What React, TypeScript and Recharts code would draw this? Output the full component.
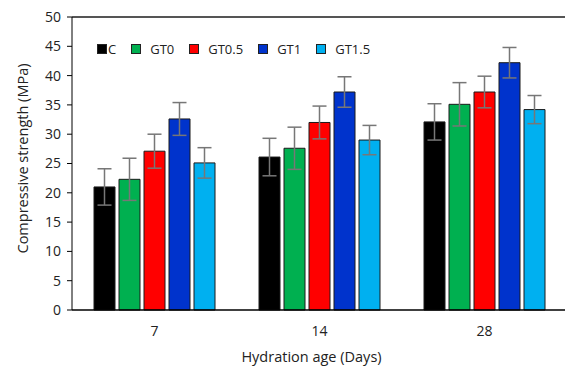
import React from 'react';
import { BarChart, Bar, XAxis, YAxis, ErrorBar, ReferenceLine } from 'recharts';

const categories = ['7', '14', '28'];
const seriesNames = ['C', 'GT0', 'GT0.5', 'GT1', 'GT1.5'];
const valC = [21.0, 26.1, 32.1];
const valGT0 = [22.3, 27.6, 35.1];
const valGT05 = [27.1, 32.0, 37.2];
const valGT1 = [32.6, 37.2, 42.2];
const valGT15 = [25.1, 29.0, 34.2];
const errC = [3.1, 3.2, 3.1];
const errGT0 = [3.6, 3.6, 3.7];
const errGT05 = [2.9, 2.8, 2.7];
const errGT1 = [2.8, 2.6, 2.6];
const errGT15 = [2.6, 2.5, 2.4];
const yTicks = [0, 5, 10, 15, 20, 25, 30, 35, 40, 45, 50];

const colors = ['#000000', '#00b050', '#ff0000', '#0033cc', '#00b0f0'];
const keys = ['C', 'GT0', 'GT05', 'GT1', 'GT15'];

const data = categories.map((c, i) => ({
  age: c,
  C: valC[i], eC: errC[i],
  GT0: valGT0[i], eGT0: errGT0[i],
  GT05: valGT05[i], eGT05: errGT05[i],
  GT1: valGT1[i], eGT1: errGT1[i],
  GT15: valGT15[i], eGT15: errGT15[i],
}));

const font = '"Open Sans", sans-serif';

const LegendBox = () => (
  <div style={{ position: 'absolute', left: 97, top: 40, display: 'flex', alignItems: 'center', fontFamily: font, fontSize: 13, color: '#222' }}>
    {seriesNames.map((n, i) => (
      <div key={n} style={{ display: 'flex', alignItems: 'center', marginRight: 15 }}>
        <div style={{ width: 8, height: 8, background: colors[i], border: '1px solid #222', marginRight: i === 0 ? 1 : 9 }} />
        <span>{n}</span>
      </div>
    ))}
  </div>
);

const YTitle = (props: any) => {
  const vb = props.viewBox || { x: 0, y: 0, width: 0, height: 0 };
  const cx = 22;
  const cy = vb.y + vb.height / 2 - 5;
  return (
    <text x={cx} y={cy} transform={`rotate(-90 ${cx} ${cy})`} textAnchor="middle" dominantBaseline="central" fill="#222" fontSize={14.5} fontFamily={font}>
      Compressive strength (MPa)
    </text>
  );
};

export default function App() {
  return (
    <div style={{ position: 'absolute', left: 0, top: 0, width: 580, height: 372, background: '#fff', overflow: 'hidden' }}>
      <BarChart
        width={580}
        height={372}
        data={data}
        margin={{ top: 17, right: 13, bottom: 0, left: 0 }}
        barGap={4}
        barSize={21}
      >
        <ReferenceLine y={50} stroke="#555" strokeWidth={2} ifOverflow="extendDomain" />
        <XAxis
          dataKey="age"
          height={62}
          tickLine={false}
          axisLine={{ stroke: '#000', strokeWidth: 1.5 }}
          tick={{ fill: '#222', fontSize: 14, fontFamily: font }}
          tickMargin={10}
          label={{ value: 'Hydration age (Days)', position: 'insideBottom', offset: 10, fill: '#222', fontSize: 14.5, fontFamily: font, dx: -8 }}
        />
        <YAxis
          domain={[0, 50]}
          ticks={yTicks}
          width={72}
          tickLine={{ stroke: '#000' }}
          tickSize={5}
          tickMargin={6}
          axisLine={{ stroke: '#000', strokeWidth: 1 }}
          tick={{ fill: '#222', fontSize: 14, fontFamily: font }}
          label={<YTitle />}
        />
        {keys.map((k, i) => (
          <Bar key={k} dataKey={k} fill={colors[i]} stroke="#1a1a1a" strokeWidth={1} isAnimationActive={false}>
            <ErrorBar dataKey={'e' + k} width={7} stroke="#777" strokeWidth={1.5} />
          </Bar>
        ))}
      </BarChart>
      <LegendBox />
    </div>
  );
}
